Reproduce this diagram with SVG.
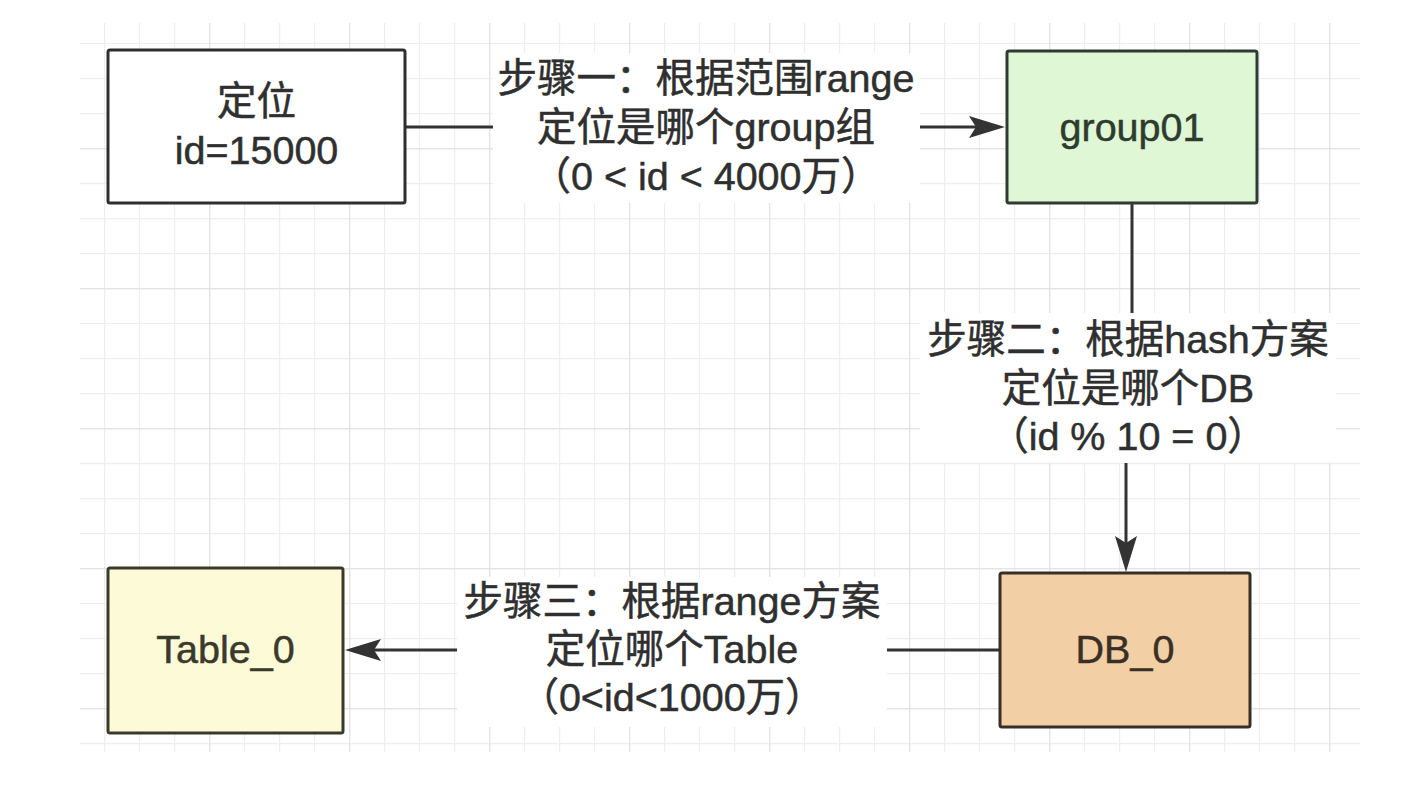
<svg xmlns="http://www.w3.org/2000/svg" width="1410" height="790" viewBox="0 0 1410 790">
  <style>
    .node-text { font-family: "Liberation Sans", "Noto Sans CJK SC", sans-serif; font-size: 39.5px; text-anchor: middle; fill: #2f2f2f; stroke: #2f2f2f; stroke-width: 0.5; }
    .edge-text { font-family: "Liberation Sans", "Noto Sans CJK SC", sans-serif; font-size: 39.5px; text-anchor: middle; fill: #2f2f2f; stroke: #2f2f2f; stroke-width: 0.5; }
    .box { stroke-width: 3; }
    .edge { fill: none; stroke: #333333; stroke-width: 3; marker-end: url(#arrow); }
    .label-bg { fill: #ffffff; }
  </style>
  <defs>
    <pattern id="grid" patternUnits="userSpaceOnUse" x="104" y="43" width="140" height="140">
      <rect x="0" y="0" width="1.2" height="140" fill="#eeeeee"/>
      <rect x="35" y="0" width="1.2" height="140" fill="#eeeeee"/>
      <rect x="70" y="0" width="1.2" height="140" fill="#eeeeee"/>
      <rect x="0" y="0" width="140" height="1.2" fill="#eeeeee"/>
      <rect x="0" y="35" width="140" height="1.2" fill="#eeeeee"/>
      <rect x="0" y="70" width="140" height="1.2" fill="#eeeeee"/>
      <rect x="105" y="0" width="1.4" height="140" fill="#e4e4e4"/>
      <rect x="0" y="105" width="140" height="1.4" fill="#e4e4e4"/>
    </pattern>
    <marker id="arrow" viewBox="0 0 36 22" refX="7" refY="11" markerWidth="36" markerHeight="22" markerUnits="userSpaceOnUse" orient="auto">
      <path d="M0,0 L36,11 L0,22 L7,11 Z" fill="#333333"/>
    </marker>
  </defs>

  <rect x="0" y="0" width="1410" height="790" fill="#ffffff"/>
  <rect x="80" y="23" width="1280" height="729" fill="url(#grid)"/>

  <g id="connectors">
    <g id="edge-1">
      <path class="edge" d="M405,127 H493 M920,127 H976"/>
      <rect class="label-bg" x="493" y="53" width="427" height="150"/>
      <text class="edge-text" x="706" y="92">步骤一：根据范围range</text>
      <text class="edge-text" x="706" y="141">定位是哪个group组</text>
      <text class="edge-text" x="706" y="190">（0 &lt; id &lt; 4000万）</text>
    </g>
    <g id="edge-2">
      <path class="edge" d="M1132,203 V313 M1126,463 V543"/>
      <rect class="label-bg" x="920" y="313" width="416" height="150"/>
      <text class="edge-text" x="1128" y="353">步骤二：根据hash方案</text>
      <text class="edge-text" x="1128" y="402">定位是哪个DB</text>
      <text class="edge-text" x="1128" y="450">（id % 10 = 0）</text>
    </g>
    <g id="edge-3">
      <path class="edge" d="M1000,650 H887 M457,650 H374"/>
      <rect class="label-bg" x="457" y="577" width="430" height="150"/>
      <text class="edge-text" x="672" y="615">步骤三：根据range方案</text>
      <text class="edge-text" x="672" y="663">定位哪个Table</text>
      <text class="edge-text" x="672" y="711">（0&lt;id&lt;1000万）</text>
    </g>
  </g>

  <g id="node-locate">
    <rect class="box" x="108" y="50" width="297" height="153" rx="2" fill="#ffffff" stroke="#2e2e2e"/>
    <text class="node-text" x="256.5" y="115">定位</text>
    <text class="node-text" x="256.5" y="164">id=15000</text>
  </g>

  <g id="node-group01">
    <rect class="box" x="1007" y="51" width="250" height="152" rx="2" fill="#dff7d5" stroke="#2f3b2f"/>
    <text class="node-text" x="1132" y="141" style="fill:#2f3b2f;stroke:#2f3b2f">group01</text>
  </g>

  <g id="node-table0">
    <rect class="box" x="108" y="568" width="235" height="165" rx="2" fill="#fdfbd7" stroke="#3a3a2c"/>
    <text class="node-text" x="225.5" y="663" style="fill:#3a3a2c;stroke:#3a3a2c">Table_0</text>
  </g>

  <g id="node-db0">
    <rect class="box" x="1000" y="573" width="250" height="154" rx="2" fill="#f2cfa5" stroke="#3a2f26"/>
    <text class="node-text" x="1125" y="663" style="fill:#3a2f26;stroke:#3a2f26">DB_0</text>
  </g>
</svg>
